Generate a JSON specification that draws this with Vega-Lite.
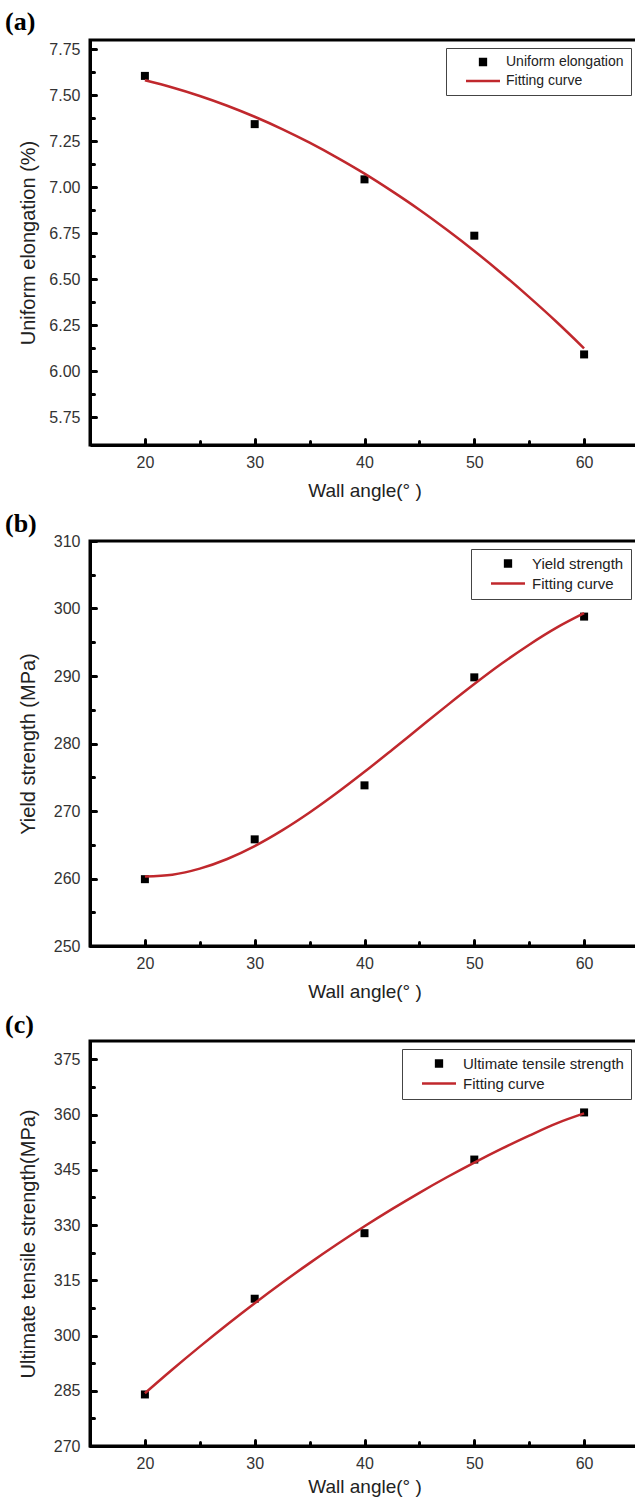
{
  "$schema": "https://vega.github.io/schema/vega-lite/v6.json",
  "padding": {"left": 3, "top": 7, "right": 0, "bottom": 0},
  "spacing": 7,
  "config": {
    "view": {"stroke": "black", "strokeWidth": 3},
    "font": "Liberation Sans",
    "axis": {
      "domainColor": "black", "domainWidth": 3,
      "tickColor": "black", "tickWidth": 3, "tickCap": "round",
      "labelFont": "Liberation Sans", "labelFontSize": 16, "labelColor": "#333",
      "titleFont": "Liberation Sans", "titleFontSize": 19, "titleFontWeight": "normal", "titleColor": "#222",
      "grid": false
    },
    "legend": {
      "orient": "top-right", "offset": 8, "padding": 7,
      "strokeColor": "#444", "strokeWidth": 1, "fillColor": "white",
      "labelFont": "Liberation Sans", "labelFontSize": 14, "labelColor": "#222", "labelLimit": 300,
      "symbolSize": 100, "rowPadding": 4, "labelOffset": 39, "title": null
    },
    "title": {"font": "Liberation Serif", "fontWeight": "bold", "fontSize": 26, "color": "black", "anchor": "start", "frame": "group", "dx": -85}
  },
  "datasets": {
    "ptsA": [{"angle": 20, "v": 7.605, "series": "Uniform elongation"}, {"angle": 30, "v": 7.343, "series": "Uniform elongation"}, {"angle": 40, "v": 7.043, "series": "Uniform elongation"}, {"angle": 50, "v": 6.737, "series": "Uniform elongation"}, {"angle": 60, "v": 6.092, "series": "Uniform elongation"}],
    "fitA": [{"angle": 20, "v": 7.581, "series": "Fitting curve"}, {"angle": 22.5, "v": 7.542, "series": "Fitting curve"}, {"angle": 25, "v": 7.496, "series": "Fitting curve"}, {"angle": 27.5, "v": 7.443, "series": "Fitting curve"}, {"angle": 30, "v": 7.383, "series": "Fitting curve"}, {"angle": 32.5, "v": 7.316, "series": "Fitting curve"}, {"angle": 35, "v": 7.242, "series": "Fitting curve"}, {"angle": 37.5, "v": 7.161, "series": "Fitting curve"}, {"angle": 40, "v": 7.074, "series": "Fitting curve"}, {"angle": 42.5, "v": 6.979, "series": "Fitting curve"}, {"angle": 45, "v": 6.878, "series": "Fitting curve"}, {"angle": 47.5, "v": 6.769, "series": "Fitting curve"}, {"angle": 50, "v": 6.654, "series": "Fitting curve"}, {"angle": 52.5, "v": 6.532, "series": "Fitting curve"}, {"angle": 55, "v": 6.403, "series": "Fitting curve"}, {"angle": 57.5, "v": 6.268, "series": "Fitting curve"}, {"angle": 60, "v": 6.125, "series": "Fitting curve"}],
    "ptsB": [{"angle": 20, "v": 259.9, "series": "Yield strength"}, {"angle": 30, "v": 265.8, "series": "Yield strength"}, {"angle": 40, "v": 273.8, "series": "Yield strength"}, {"angle": 50, "v": 289.8, "series": "Yield strength"}, {"angle": 60, "v": 298.8, "series": "Yield strength"}],
    "fitB": [{"angle": 20, "v": 260.3, "series": "Fitting curve"}, {"angle": 22.5, "v": 260.57, "series": "Fitting curve"}, {"angle": 25, "v": 261.46, "series": "Fitting curve"}, {"angle": 27.5, "v": 262.89, "series": "Fitting curve"}, {"angle": 30, "v": 264.8, "series": "Fitting curve"}, {"angle": 32.5, "v": 267.12, "series": "Fitting curve"}, {"angle": 35, "v": 269.77, "series": "Fitting curve"}, {"angle": 37.5, "v": 272.69, "series": "Fitting curve"}, {"angle": 40, "v": 275.8, "series": "Fitting curve"}, {"angle": 42.5, "v": 279.04, "series": "Fitting curve"}, {"angle": 45, "v": 282.33, "series": "Fitting curve"}, {"angle": 47.5, "v": 285.61, "series": "Fitting curve"}, {"angle": 50, "v": 288.8, "series": "Fitting curve"}, {"angle": 52.5, "v": 291.84, "series": "Fitting curve"}, {"angle": 55, "v": 294.64, "series": "Fitting curve"}, {"angle": 57.5, "v": 297.16, "series": "Fitting curve"}, {"angle": 60, "v": 299.3, "series": "Fitting curve"}],
    "ptsC": [{"angle": 20, "v": 284, "series": "Ultimate tensile strength"}, {"angle": 30, "v": 310, "series": "Ultimate tensile strength"}, {"angle": 40, "v": 327.8, "series": "Ultimate tensile strength"}, {"angle": 50, "v": 347.8, "series": "Ultimate tensile strength"}, {"angle": 60, "v": 360.6, "series": "Ultimate tensile strength"}],
    "fitC": [{"angle": 20, "v": 284.33, "series": "Fitting curve"}, {"angle": 22.5, "v": 290.78, "series": "Fitting curve"}, {"angle": 25, "v": 296.99, "series": "Fitting curve"}, {"angle": 27.5, "v": 303.0, "series": "Fitting curve"}, {"angle": 30, "v": 308.78, "series": "Fitting curve"}, {"angle": 32.5, "v": 314.34, "series": "Fitting curve"}, {"angle": 35, "v": 319.67, "series": "Fitting curve"}, {"angle": 37.5, "v": 324.78, "series": "Fitting curve"}, {"angle": 40, "v": 329.67, "series": "Fitting curve"}, {"angle": 42.5, "v": 334.33, "series": "Fitting curve"}, {"angle": 45, "v": 338.77, "series": "Fitting curve"}, {"angle": 47.5, "v": 342.99, "series": "Fitting curve"}, {"angle": 50, "v": 346.98, "series": "Fitting curve"}, {"angle": 52.5, "v": 350.76, "series": "Fitting curve"}, {"angle": 55, "v": 354.3, "series": "Fitting curve"}, {"angle": 57.5, "v": 357.63, "series": "Fitting curve"}, {"angle": 60, "v": 360.33, "series": "Fitting curve"}]
  },
  "vconcat": [
    {
      "width": 549, "height": 405,
      "title": {"text": "(a)", "offset": 5},
      "resolve": {"axis": {"x": "independent", "y": "independent"}},
      "layer": [
        {
          "data": {"name": "ptsA"},
          "mark": {"type": "point", "opacity": 0},
          "encoding": {
            "x": {"field": "angle", "type": "quantitative", "scale": {"domain": [15, 65]}, "axis": {"orient": "bottom", "values": [25, 35, 45, 55], "labels": false, "domain": false, "tickSize": -4, "title": null}},
            "y": {"field": "v", "type": "quantitative", "scale": {"domain": [5.75, 7.75]}, "axis": {"orient": "left", "values": [5.875, 6.125, 6.375, 6.625, 6.875, 7.125, 7.375, 7.625], "labels": false, "domain": false, "tickSize": -4, "title": null}}
          }
        },
        {
          "data": {"name": "ptsA"},
          "mark": {"type": "point", "shape": "square", "filled": true, "size": 64, "opacity": 1},
          "encoding": {
            "x": {"field": "angle", "type": "quantitative", "axis": {"orient": "bottom", "values": [20, 30, 40, 50, 60], "tickSize": -6, "labelPadding": 15, "title": "Wall angle(°  )", "titlePadding": 11}},
            "y": {"field": "v", "type": "quantitative", "axis": {"orient": "left", "values": [5.75, 6, 6.25, 6.5, 6.75, 7, 7.25, 7.5, 7.75], "format": ".2f", "tickSize": -6, "labelPadding": 16, "title": "Uniform elongation (%)", "titleFontSize": 20, "titleX": -62, "titleY": 202.5, "titleBaseline": "middle"}},
            "color": {"field": "series", "type": "nominal", "scale": {"domain": ["Uniform elongation", "Fitting curve"], "range": ["black", "#c0282d"]},
              "legend": {"encode": {"symbols": {"update": {
                "shape": {"signal": "datum.value === 'Fitting curve' ? 'stroke' : 'M-10.46,0L-10.46,0M-0.82,-0.82H0.82V0.82H-0.82Z'"},
                "size": {"signal": "datum.value === 'Fitting curve' ? 1156 : 50"},
                "strokeWidth": {"value": 2.5},
                "opacity": {"value": 1},
                "x": {"value": 30}}}}}}
          }
        },
        {
          "data": {"name": "fitA"},
          "mark": {"type": "line", "strokeWidth": 2.5, "interpolate": "monotone"},
          "encoding": {
            "x": {"field": "angle", "type": "quantitative", "axis": null},
            "y": {"field": "v", "type": "quantitative", "axis": null},
            "color": {"field": "series", "type": "nominal",
              "legend": {"encode": {"symbols": {"update": {
                "shape": {"signal": "datum.value === 'Fitting curve' ? 'stroke' : 'M-10.46,0L-10.46,0M-0.82,-0.82H0.82V0.82H-0.82Z'"},
                "size": {"signal": "datum.value === 'Fitting curve' ? 1156 : 50"},
                "strokeWidth": {"value": 2.5},
                "opacity": {"value": 1},
                "x": {"value": 30}}}}}}
          }
        }
      ]
    },
    {
      "width": 549, "height": 405,
      "title": {"text": "(b)", "offset": -4},
      "resolve": {"axis": {"x": "independent", "y": "independent"}},
      "layer": [
        {
          "data": {"name": "ptsB"},
          "mark": {"type": "point", "opacity": 0},
          "encoding": {
            "x": {"field": "angle", "type": "quantitative", "scale": {"domain": [15, 65]}, "axis": {"orient": "bottom", "values": [25, 35, 45, 55], "labels": false, "domain": false, "tickSize": -4, "title": null}},
            "y": {"field": "v", "type": "quantitative", "scale": {"domain": [250, 310]}, "axis": {"orient": "left", "values": [255, 265, 275, 285, 295, 305], "labels": false, "domain": false, "tickSize": -4, "title": null}}
          }
        },
        {
          "data": {"name": "ptsB"},
          "mark": {"type": "point", "shape": "square", "filled": true, "size": 64, "opacity": 1},
          "encoding": {
            "x": {"field": "angle", "type": "quantitative", "axis": {"orient": "bottom", "values": [20, 30, 40, 50, 60], "tickSize": -6, "labelPadding": 15, "title": "Wall angle(°  )", "titlePadding": 11}},
            "y": {"field": "v", "type": "quantitative", "axis": {"orient": "left", "values": [250, 260, 270, 280, 290, 300, 310], "tickSize": -6, "labelPadding": 16, "title": "Yield strength (MPa)", "titleFontSize": 20, "titleX": -62, "titleY": 202.5, "titleBaseline": "middle"}},
            "color": {"field": "series", "type": "nominal", "scale": {"domain": ["Yield strength", "Fitting curve"], "range": ["black", "#c0282d"]},
              "legend": {"labelFontSize": 15, "encode": {"symbols": {"update": {
                "shape": {"signal": "datum.value === 'Fitting curve' ? 'stroke' : 'M-10.46,0L-10.46,0M-0.82,-0.82H0.82V0.82H-0.82Z'"},
                "size": {"signal": "datum.value === 'Fitting curve' ? 1156 : 50"},
                "strokeWidth": {"value": 2.5},
                "opacity": {"value": 1},
                "x": {"value": 30}}}}}}
          }
        },
        {
          "data": {"name": "fitB"},
          "mark": {"type": "line", "strokeWidth": 2.5, "interpolate": "monotone"},
          "encoding": {
            "x": {"field": "angle", "type": "quantitative", "axis": null},
            "y": {"field": "v", "type": "quantitative", "axis": null},
            "color": {"field": "series", "type": "nominal",
              "legend": {"labelFontSize": 15, "encode": {"symbols": {"update": {
                "shape": {"signal": "datum.value === 'Fitting curve' ? 'stroke' : 'M-10.46,0L-10.46,0M-0.82,-0.82H0.82V0.82H-0.82Z'"},
                "size": {"signal": "datum.value === 'Fitting curve' ? 1156 : 50"},
                "strokeWidth": {"value": 2.5},
                "opacity": {"value": 1},
                "x": {"value": 30}}}}}}
          }
        }
      ]
    },
    {
      "width": 549, "height": 405,
      "title": {"text": "(c)", "offset": 3},
      "resolve": {"axis": {"x": "independent", "y": "independent"}},
      "layer": [
        {
          "data": {"name": "ptsC"},
          "mark": {"type": "point", "opacity": 0},
          "encoding": {
            "x": {"field": "angle", "type": "quantitative", "scale": {"domain": [15, 65]}, "axis": {"orient": "bottom", "values": [25, 35, 45, 55], "labels": false, "domain": false, "tickSize": -4, "title": null}},
            "y": {"field": "v", "type": "quantitative", "scale": {"domain": [270, 380]}, "axis": {"orient": "left", "values": [277.5, 292.5, 307.5, 322.5, 337.5, 352.5, 367.5], "labels": false, "domain": false, "tickSize": -4, "title": null}}
          }
        },
        {
          "data": {"name": "ptsC"},
          "mark": {"type": "point", "shape": "square", "filled": true, "size": 64, "opacity": 1},
          "encoding": {
            "x": {"field": "angle", "type": "quantitative", "axis": {"orient": "bottom", "values": [20, 30, 40, 50, 60], "tickSize": -6, "labelPadding": 15, "title": "Wall angle(°  )", "titlePadding": 6}},
            "y": {"field": "v", "type": "quantitative", "axis": {"orient": "left", "values": [270, 285, 300, 315, 330, 345, 360, 375], "tickSize": -6, "labelPadding": 16, "title": "Ultimate tensile strength(MPa)", "titleFontSize": 20, "titleX": -62, "titleY": 202.5, "titleBaseline": "middle"}},
            "color": {"field": "series", "type": "nominal", "scale": {"domain": ["Ultimate tensile strength", "Fitting curve"], "range": ["black", "#c0282d"]},
              "legend": {"labelFontSize": 15, "encode": {"symbols": {"update": {
                "shape": {"signal": "datum.value === 'Fitting curve' ? 'stroke' : 'M-10.46,0L-10.46,0M-0.82,-0.82H0.82V0.82H-0.82Z'"},
                "size": {"signal": "datum.value === 'Fitting curve' ? 1156 : 50"},
                "strokeWidth": {"value": 2.5},
                "opacity": {"value": 1},
                "x": {"value": 30}}}}}}
          }
        },
        {
          "data": {"name": "fitC"},
          "mark": {"type": "line", "strokeWidth": 2.5, "interpolate": "monotone"},
          "encoding": {
            "x": {"field": "angle", "type": "quantitative", "axis": null},
            "y": {"field": "v", "type": "quantitative", "axis": null},
            "color": {"field": "series", "type": "nominal",
              "legend": {"labelFontSize": 15, "encode": {"symbols": {"update": {
                "shape": {"signal": "datum.value === 'Fitting curve' ? 'stroke' : 'M-10.46,0L-10.46,0M-0.82,-0.82H0.82V0.82H-0.82Z'"},
                "size": {"signal": "datum.value === 'Fitting curve' ? 1156 : 50"},
                "strokeWidth": {"value": 2.5},
                "opacity": {"value": 1},
                "x": {"value": 30}}}}}}
          }
        }
      ]
    }
  ],
  "resolve": {"scale": {"color": "independent", "y": "independent"}, "legend": {"color": "independent"}}
}
